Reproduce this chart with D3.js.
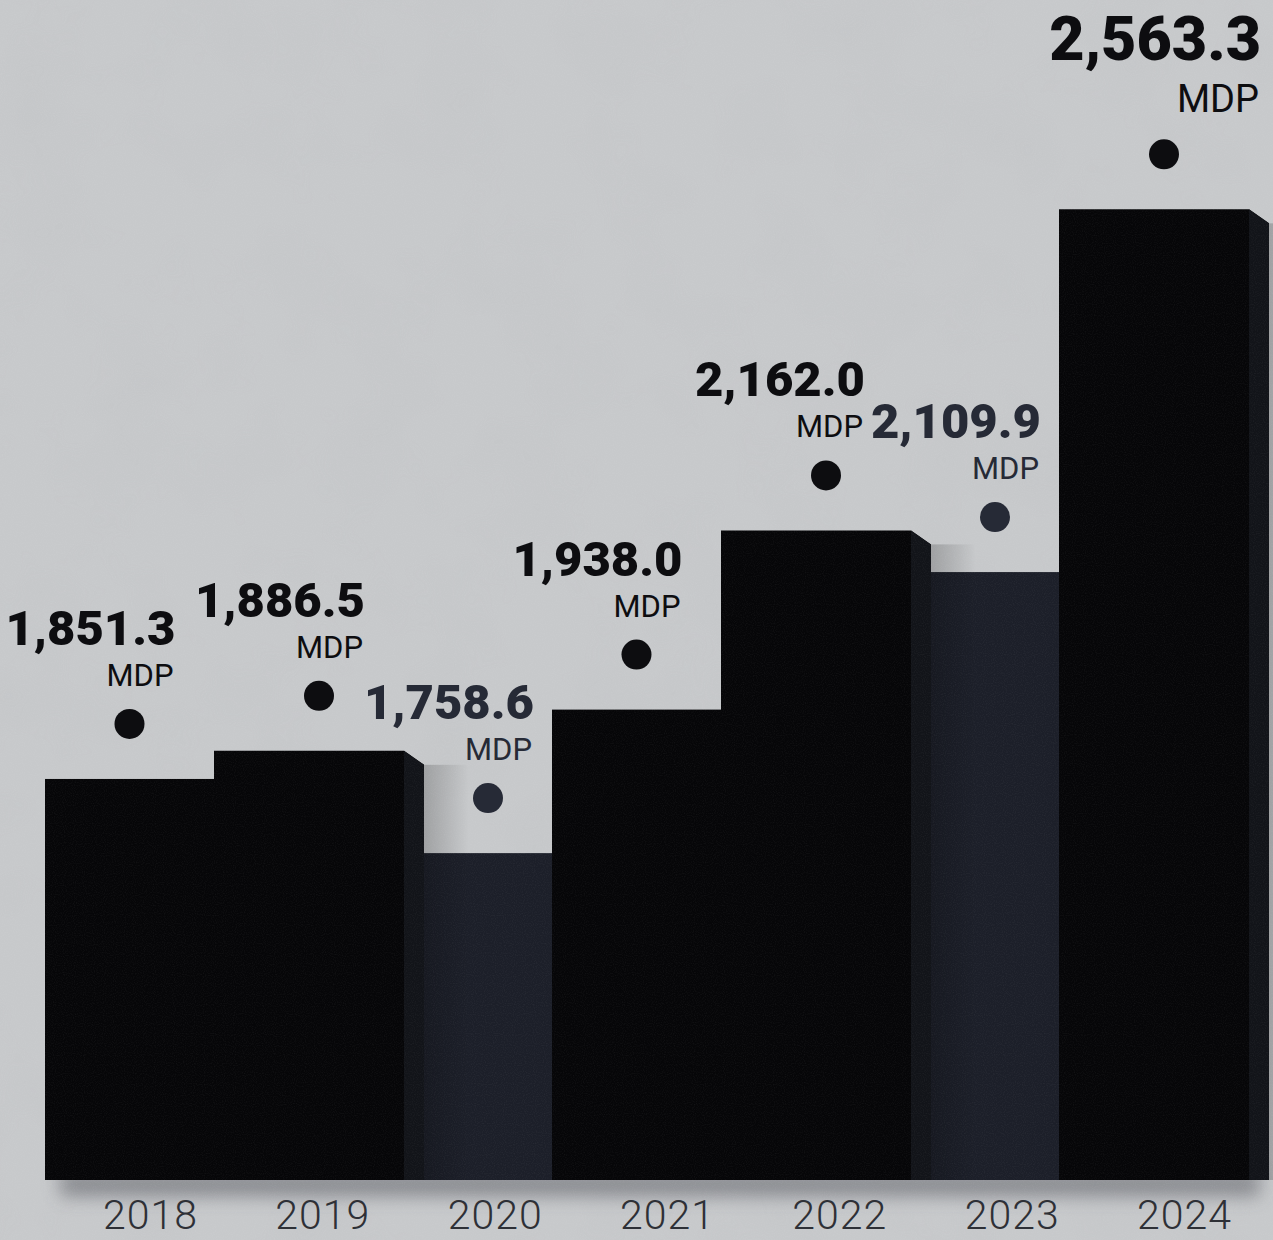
<!DOCTYPE html>
<html>
<head>
<meta charset="utf-8">
<script src="https://cdn.jsdelivr.net/npm/d3@7"></script>
<style>
  html, body { margin: 0; padding: 0; background: #c7c9cb; }
  svg { display: block; }
</style>
</head>
<body>
<div id="chart"></div>
<script>
// Data (millones de pesos)
const years = ["2018", "2019", "2020", "2021", "2022", "2023", "2024"];
const values = [1851.3, 1886.5, 1758.6, 1938.0, 2162.0, 2109.9, 2563.3];
const unitLabel = "MDP";

const width = 1273;
const height = 1240;
const baseY = 1180;
const barW = 210;

const svg = d3.select("#chart")
    .append("svg")
    .attr("width", width)
    .attr("height", height);

const defs = svg.append("defs");

// paper texture
const paper = defs.append("filter").attr("id", "paper")
    .attr("x", 0).attr("y", 0).attr("width", "100%").attr("height", "100%");
paper.append("feTurbulence").attr("type", "fractalNoise")
    .attr("baseFrequency", 0.012).attr("numOctaves", 3).attr("seed", 11);
paper.append("feColorMatrix").attr("type", "matrix")
    .attr("values", "0 0 0 0 0.45  0 0 0 0 0.46  0 0 0 0 0.48  0 0 0 -0.9 0.5");

const grain = defs.append("filter").attr("id", "grain")
    .attr("x", 0).attr("y", 0).attr("width", "100%").attr("height", "100%");
grain.append("feTurbulence").attr("type", "fractalNoise")
    .attr("baseFrequency", 0.9).attr("numOctaves", 1).attr("seed", 3);
grain.append("feColorMatrix").attr("type", "matrix")
    .attr("values", "0 0 0 0 1  0 0 0 0 1  0 0 0 0 1  0 0 0 -1.6 0.9");

defs.append("filter").attr("id", "soft")
    .attr("x", "-20%").attr("y", "-200%").attr("width", "140%").attr("height", "500%")
    .append("feGaussianBlur").attr("stdDeviation", 9);

const shadowGrad = defs.append("linearGradient").attr("id", "sideShadow")
    .attr("x1", 0).attr("x2", 1).attr("y1", 0).attr("y2", 0);
shadowGrad.append("stop").attr("offset", 0).attr("stop-color", "#000").attr("stop-opacity", 0.2);
shadowGrad.append("stop").attr("offset", 1).attr("stop-color", "#000").attr("stop-opacity", 0);

// background
svg.append("rect").attr("width", width).attr("height", height).attr("fill", "#c7c9cb");
svg.append("rect").attr("width", width).attr("height", height)
    .attr("filter", "url(#paper)").attr("opacity", 0.22);

// Scales
const x = d3.scaleBand()
    .domain(years)
    .range([45, 1228])
    .padding(0);

const y = d3.scaleLinear()
    .domain([1350, 2600])
    .range([baseY, 180]);

const xLabel = d3.scalePoint()
    .domain(years)
    .range([150, 1184]);

const fmt = d3.format(",.1f");

const data = years.map((yr, i) => {
    const prev = i > 0 ? values[i - 1] : null;
    const next = i < years.length - 1 ? values[i + 1] : null;
    const left = x(yr);
    const right = left + barW;
    // the taller of two neighbours sits in front
    const visLeft = prev !== null && prev > values[i] ? x(years[i - 1]) + barW : left;
    const visRight = next !== null && next > values[i] ? x(years[i + 1]) : right;
    return {
        year: yr,
        value: values[i],
        i: i,
        left: left,
        right: right,
        top: y(values[i]),
        mid: (visLeft + visRight) / 2,
        fell: prev !== null && values[i] < prev,
        exposed: next === null || next < values[i],
        last: i === years.length - 1
    };
});

// shadow beneath the bars
svg.append("rect")
    .attr("x", 60).attr("y", baseY - 8)
    .attr("width", 1200).attr("height", 24)
    .attr("fill", "#4a4c52").attr("opacity", 0.5)
    .attr("filter", "url(#soft)");

const barColor = d => d.fell ? "#1c1f29" : "#060608";
const sideColor = d => d.fell ? "#232632" : "#121419";
const chamX = 20, chamY = 14;

// draw bars from shortest to tallest so taller ones overlap
const order = data.slice().sort((a, b) => a.value - b.value);

const bars = svg.append("g");
order.forEach(d => {
    const g = bars.append("g");
    if (d.exposed) {
        g.append("rect")
            .attr("x", d.right)
            .attr("y", d.top + chamY)
            .attr("width", 45)
            .attr("height", baseY - d.top - chamY)
            .attr("fill", "url(#sideShadow)");
        g.append("path")
            .attr("d", `M${d.left},${baseY}V${d.top}H${d.right - chamX}L${d.right},${d.top + chamY}V${baseY}Z`)
            .attr("fill", barColor(d));
        g.append("path")
            .attr("d", `M${d.right - chamX},${d.top}L${d.right},${d.top + chamY}V${baseY}H${d.right - chamX}Z`)
            .attr("fill", sideColor(d));
    } else {
        g.append("rect")
            .attr("x", d.left)
            .attr("y", d.top)
            .attr("width", barW)
            .attr("height", baseY - d.top)
            .attr("fill", barColor(d));
    }
});

// speckle on the print
svg.append("rect").attr("width", width).attr("height", height)
    .attr("filter", "url(#grain)").attr("opacity", 0.07);

// labels: dot, value, unit
const labels = svg.append("g").selectAll("g")
    .data(data)
    .enter()
    .append("g");

const inkColor = d => d.fell ? "#262a36" : "#0d0d10";

labels.append("circle")
    .attr("cx", d => d.mid)
    .attr("cy", d => d.top - 55)
    .attr("r", 15)
    .attr("fill", inkColor);

const textGroups = labels.append("g")
    .attr("class", "value-label");

const textRight = d => d.last ? width - 12 : d.mid + 46;

textGroups.append("text")
    .attr("x", textRight)
    .attr("y", d => d.last ? d.top - 149 : d.top - 134)
    .attr("text-anchor", "end")
    .attr("font-family", "Roboto, 'Open Sans', sans-serif")
    .attr("font-weight", 900)
    .attr("font-size", d => d.last ? "61px" : "49px")
    .attr("fill", inkColor)
    .text(d => fmt(d.value));

textGroups.append("text")
    .attr("x", d => textRight(d) - 2)
    .attr("y", d => d.last ? d.top - 97 : d.top - 93)
    .attr("text-anchor", "end")
    .attr("font-family", "Roboto, 'Open Sans', sans-serif")
    .attr("font-weight", 400)
    .attr("font-size", d => d.last ? "38px" : "31px")
    .attr("fill", inkColor)
    .text(unitLabel);

// nudge a label left when it runs into the next one
const nodes = textGroups.nodes();
for (let i = nodes.length - 2; i >= 0; i--) {
    const a = nodes[i].getBBox();
    const b = nodes[i + 1].getBBox();
    const dyOverlap = Math.min(a.y + a.height, b.y + b.height) - Math.max(a.y, b.y);
    const dxOverlap = a.x + a.width + 6 - b.x;
    if (dyOverlap > 0 && dxOverlap > 0) {
        d3.select(nodes[i]).attr("transform", `translate(${-dxOverlap},0)`);
    }
}

// year axis
const axis = svg.append("g")
    .attr("transform", `translate(0,${baseY})`)
    .call(d3.axisBottom(xLabel).tickSize(0).tickPadding(0));

axis.select(".domain").remove();
axis.selectAll("text")
    .attr("y", 49)
    .attr("dy", 0)
    .attr("font-family", "Roboto, 'Open Sans', sans-serif")
    .attr("font-weight", 300)
    .attr("font-size", "41px")
    .attr("letter-spacing", "1px")
    .attr("fill", "#2e3036");
</script>
</body>
</html>
